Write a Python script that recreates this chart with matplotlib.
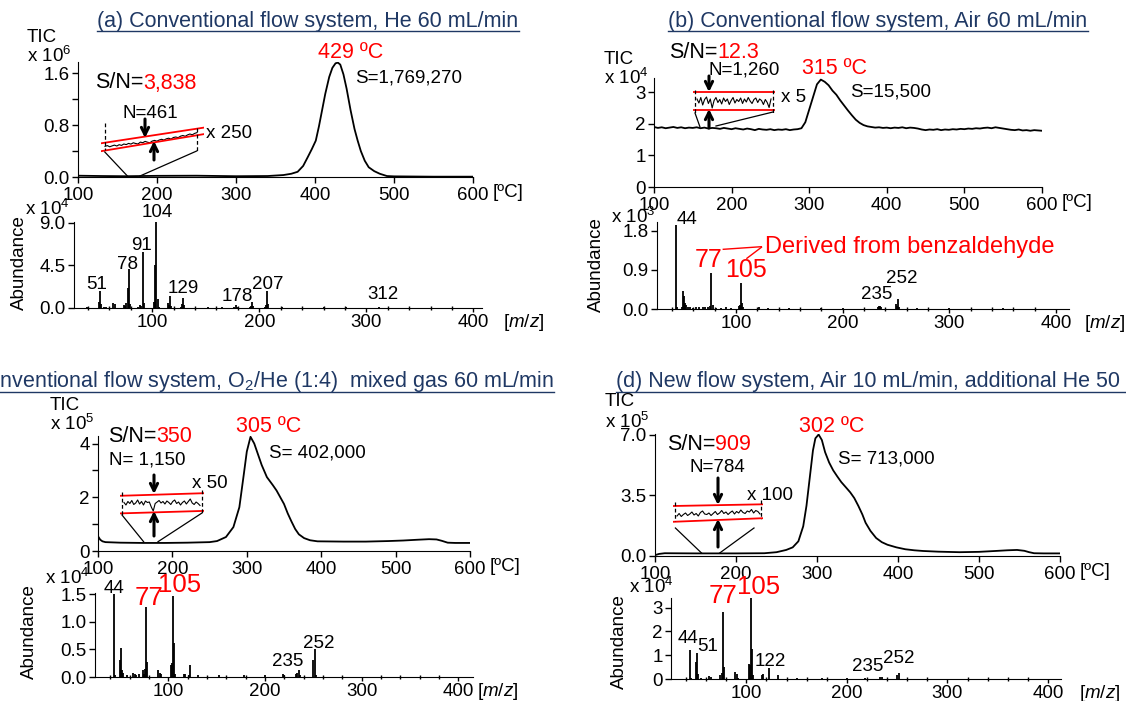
import matplotlib
matplotlib.use('Agg')
import matplotlib.pyplot as plt
import numpy as np

plt.rcParams['font.family'] = ['Liberation Sans', 'DejaVu Sans']
plt.rcParams['mathtext.fontset'] = 'custom'
plt.rcParams['mathtext.rm'] = 'Liberation Sans'
plt.rcParams['mathtext.it'] = 'Liberation Sans:italic'

W, H = 1126, 701
NAVY = '#1f3864'
FS = 13.5      # tick labels / small annotations
FB = 15.5      # titles, S/N, peak temperature

# ---------------- TIC curves (temperature in ºC, intensity) ----------------
tic_a_t = [100, 130, 160, 200, 250, 300, 340, 360, 370, 378, 385, 391, 396, 401, 405, 409,
           413, 418, 422, 426, 429, 432, 436, 440, 445, 450, 454, 458, 463, 468, 475, 482,
           491, 500, 550, 600]
tic_a = [0.02, 0.015, 0.012, 0.018, 0.02, 0.012, 0.015, 0.03, 0.05, 0.08, 0.17, 0.31, 0.43,
         0.56, 0.78, 1.03, 1.28, 1.54, 1.68, 1.75, 1.76, 1.73, 1.58, 1.36, 1.03, 0.74, 0.56,
         0.40, 0.25, 0.15, 0.09, 0.05, 0.015, 0.01, 0.005, 0.005]

tic_b_t = np.arange(100, 601, 5)
tic_b = [1.90, 1.87, 1.89, 1.86, 1.88, 1.90, 1.87, 1.89, 1.86, 1.88, 1.87, 1.89, 1.86, 1.88,
         1.85, 1.87, 1.86, 1.84, 1.87, 1.85, 1.83, 1.86, 1.84, 1.82, 1.85, 1.83, 1.80, 1.84,
         1.82, 1.81, 1.83, 1.80, 1.82, 1.81, 1.83, 1.80, 1.82, 1.83, 1.86, 2.05, 2.45, 2.85,
         3.25, 3.40, 3.33, 3.22, 3.05, 2.92, 2.74, 2.58, 2.42, 2.27, 2.13, 2.03, 1.96, 1.92,
         1.90, 1.88, 1.89, 1.87, 1.88, 1.86, 1.88, 1.87, 1.89, 1.86, 1.88, 1.87, 1.85, 1.82,
         1.80, 1.82, 1.81, 1.83, 1.80, 1.82, 1.81, 1.83, 1.82, 1.84, 1.83, 1.85, 1.84, 1.86,
         1.85, 1.87, 1.88, 1.86, 1.89, 1.87, 1.85, 1.83, 1.81, 1.80, 1.82, 1.79, 1.80, 1.78,
         1.80, 1.79, 1.78]

tic_c_t = [100, 103, 106, 110, 130, 160, 190, 220, 250, 260, 272, 282, 290, 296, 300, 305,
           310, 315, 320, 327, 335, 340, 345, 350, 355, 360, 365, 370, 377, 385, 395, 430,
           460, 490, 510, 530, 545, 555, 562, 570, 580, 600]
tic_c = [0.55, 0.42, 0.36, 0.33, 0.31, 0.30, 0.30, 0.31, 0.33, 0.37, 0.52, 0.89, 1.63, 2.86,
         3.70, 4.25, 4.00, 3.60, 3.20, 2.75, 2.45, 2.25, 2.00, 1.75, 1.40, 1.10, 0.82, 0.62,
         0.48, 0.40, 0.36, 0.35, 0.35, 0.37, 0.39, 0.42, 0.44, 0.43, 0.38, 0.31, 0.30, 0.30]

tic_d_t = [100, 105, 112, 150, 200, 235, 250, 262, 270, 277, 283, 287, 291, 295, 298, 302,
           306, 310, 315, 320, 325, 330, 336, 341, 346, 351, 356, 360, 366, 373, 380, 387,
           398, 409, 420, 431, 450, 476, 500, 520, 535, 547, 556, 562, 568, 580, 600]
tic_d = [0.05, 0.12, 0.16, 0.15, 0.15, 0.16, 0.22, 0.35, 0.50, 0.85, 1.72, 2.90, 4.50, 6.10,
         6.80, 7.02, 6.70, 6.00, 5.40, 4.95, 4.60, 4.27, 3.95, 3.68, 3.35, 2.90, 2.40, 1.92,
         1.45, 1.04, 0.80, 0.65, 0.50, 0.39, 0.33, 0.29, 0.25, 0.22, 0.24, 0.29, 0.33, 0.35,
         0.30, 0.22, 0.16, 0.15, 0.15]

# ---------------- magnified baseline noise (inset traces) ----------------
noise_a = [9.6, 10.4, 9.2, 10.1, 10.9, 10.0, 11.3, 10.6, 12.0, 11.4, 12.6, 11.9, 13.2, 12.5,
           12.0, 13.9, 13.3, 14.6, 13.8, 13.2, 14.9, 15.6, 14.8, 16.0, 16.7, 15.9, 17.2, 17.8,
           16.9, 18.5, 19.0, 18.3, 19.8, 20.5, 19.7, 21.1, 22.0, 21.2, 22.6, 23.4]
noise_b = [17.0, 13.0, 18.5, 11.0, 16.5, 19.0, 12.5, 17.0, 8.0, 15.5, 18.5, 13.5, 16.5, 12.0,
           18.0, 14.5, 17.0, 11.5, 15.5, 18.5, 13.0, 16.5, 14.5, 18.0, 12.5, 17.0, 14.0, 18.5,
           15.0, 12.5, 16.5, 18.0, 13.5, 17.0, 15.5, 11.5, 16.5, 13.5, 8.5, 17.0]
noise_c = [15.5, 13.0, 16.5, 14.5, 17.5, 13.5, 15.0, 18.0, 14.0, 16.5, 13.0, 17.0, 15.5, 16.0,
           11.0, 7.0, 14.5, 16.0, 17.5, 15.0, 16.5, 14.0, 17.0, 15.5, 13.5, 16.5, 18.0, 14.5,
           16.0, 13.0, 15.5, 17.0, 14.0, 16.5, 19.0, 15.0, 13.5, 16.0, 14.5, 12.5]
noise_d = [10.0, 12.5, 9.5, 11.5, 13.0, 10.5, 12.0, 14.0, 11.0, 12.5, 10.0, 13.5, 15.0, 12.0,
           11.5, 13.0, 10.5, 12.5, 14.5, 11.5, 13.0, 15.5, 12.5, 14.0, 11.5, 13.5, 15.0, 12.0,
           14.5, 13.0, 16.0, 13.5, 12.5, 15.0, 14.0, 16.5, 13.0, 15.5, 14.5, 12.0]

# ---------------- mass spectra (m/z, abundance) ----------------
ms_a_mz = [39, 50, 51, 52, 55, 57, 63, 65, 74, 75, 76, 77, 78, 79, 87, 89, 90, 91, 92, 102,
           103, 104, 105, 106, 115, 116, 117, 118, 127, 128, 129, 130, 139, 152, 165, 176,
           178, 179, 191, 192, 193, 194, 205, 206, 207, 208, 221, 240, 260, 281, 300, 312,
           320, 340, 355, 370, 390]
ms_a = [0.1, 0.6, 1.8, 0.4, 0.1, 0.1, 0.5, 0.45, 0.3, 0.2, 0.5, 2.1, 4.1, 0.4, 0.1, 0.3, 0.2,
        5.9, 0.5, 0.6, 4.5, 9.1, 0.9, 0.1, 0.5, 0.3, 1.3, 0.2, 0.1, 0.4, 1.1, 0.3, 0.05, 0.1,
        0.1, 0.1, 0.3, 0.15, 0.15, 0.2, 0.6, 0.2, 0.15, 0.3, 1.8, 0.4, 0.1, 0.05, 0.08, 0.06,
        0.05, 0.06, 0.04, 0.05, 0.04, 0.04, 0.03]

ms_b_mz = [44, 45, 49, 50, 51, 52, 53, 55, 57, 60, 63, 65, 69, 71, 74, 76, 77, 78, 81, 86,
           91, 95, 103, 104, 105, 106, 107, 122, 130, 150, 180, 200, 233, 234, 235, 236,
           250, 251, 252, 253, 270, 300, 350]
ms_b = [1.93, 0.04, 0.05, 0.41, 0.30, 0.13, 0.10, 0.05, 0.05, 0.03, 0.05, 0.04, 0.05, 0.04,
        0.04, 0.06, 0.83, 0.10, 0.03, 0.03, 0.04, 0.03, 0.06, 0.10, 0.59, 0.14, 0.04, 0.05,
        0.02, 0.02, 0.02, 0.02, 0.04, 0.06, 0.08, 0.05, 0.12, 0.06, 0.22, 0.05, 0.02, 0.02,
        0.02]

ms_c_mz = [44, 45, 50, 51, 52, 53, 57, 63, 65, 66, 69, 74, 75, 76, 77, 78, 89, 91, 92, 103,
           104, 105, 106, 107, 116, 117, 121, 122, 131, 152, 178, 200, 218, 220, 232, 233,
           235, 236, 250, 252, 253]
ms_c = [1.50, 0.04, 0.31, 0.53, 0.12, 0.08, 0.04, 0.07, 0.06, 0.04, 0.05, 0.12, 0.05, 0.14,
        1.26, 0.27, 0.12, 0.08, 0.05, 0.22, 0.26, 1.47, 0.61, 0.06, 0.05, 0.05, 0.04, 0.22,
        0.03, 0.03, 0.03, 0.03, 0.05, 0.03, 0.06, 0.08, 0.12, 0.04, 0.31, 0.51, 0.04]

ms_d_mz = [44, 45, 50, 51, 52, 55, 63, 65, 74, 76, 77, 78, 89, 91, 92, 103, 104, 105, 106,
           107, 116, 117, 122, 131, 150, 175, 200, 218, 233, 235, 250, 252]
ms_d = [1.22, 0.05, 0.70, 1.08, 0.22, 0.06, 0.12, 0.10, 0.15, 0.26, 2.83, 0.52, 0.30, 0.20,
        0.06, 0.62, 0.60, 3.38, 1.26, 0.15, 0.15, 0.22, 0.45, 0.17, 0.04, 0.05, 0.05, 0.06,
        0.07, 0.08, 0.16, 0.27]

fig = plt.figure(figsize=(W / 100, H / 100), dpi=100)
renderer = fig.canvas.get_renderer()

# overlay in pixel units for annotations
ov = fig.add_axes([0, 0, 1, 1], zorder=5)
ov.set_xlim(0, W)
ov.set_ylim(H, 0)
ov.axis('off')


def box(l, t, r, b):
    return fig.add_axes([l / W, 1 - b / H, (r - l) / W, (b - t) / H])


def frame(ax, xlim, ylim, xt, yt, ylab, xpad=3):
    ax.set_xlim(xlim)
    ax.set_ylim(ylim)
    ax.spines[['top', 'right']].set_visible(False)
    ax.set_xticks(xt)
    ax.set_yticks(yt)
    ax.set_yticklabels(ylab)
    ax.tick_params(direction='out', length=4, width=1, labelsize=FS, pad=2)
    ax.tick_params(axis='x', pad=xpad)
    ax.patch.set_visible(False)


def txt(x, y, s, size=FS, color='k', ha='left', va='center', **kw):
    return ov.text(x, y, s, fontsize=size, color=color, ha=ha, va=va, **kw)


def title(x, y, s, ha):
    t = txt(x, y, s, FB, NAVY, ha=ha)
    bb = t.get_window_extent(renderer)
    ov.plot([bb.x0, bb.x1], [y + 10, y + 10], color=NAVY, lw=1)


def sn(x, y, val):
    t = txt(x, y, 'S/N=', FB)
    bb = t.get_window_extent(renderer)
    txt(bb.x1, y, val, FB, 'red')


def arrow(x, y0, y1):
    ov.annotate('', xy=(x, y1), xytext=(x, y0),
                arrowprops=dict(arrowstyle='->', lw=2.2, color='k', mutation_scale=13,
                                shrinkA=0, shrinkB=0))


def inset(l, t, r, b, noise, x0, x1, upper, lower, dash, conn):
    ax = box(l, t, r, b)
    ax.set_xlim(l, r)
    ax.set_ylim(0, b - t)
    ax.axis('off')
    ax.plot(np.linspace(x0, x1, len(noise)), noise, color='k', lw=0.8)
    ax.plot([l, r], upper, color='red', lw=1.3)
    ax.plot([l, r], lower, color='red', lw=1.3)
    for xd, ya, yb in dash:
        ov.plot([xd, xd], [ya, yb], color='k', lw=0.9, ls=(0, (3, 2)))
    for p, q in conn:
        ov.plot([p[0], q[0]], [p[1], q[1]], color='k', lw=0.9)


def tic_panel(box_px, t, v, ylim, yt, ylab, unit_dx=20):
    ax = box(*box_px)
    ax.plot(t, v, color='k', lw=1.3)
    frame(ax, (100, 600), ylim, range(100, 601, 100), yt, ylab)
    ax.annotate('[ºC]', xy=(1, 0), xycoords='axes fraction', xytext=(unit_dx, -7),
                textcoords='offset pixels', ha='left', va='top', fontsize=FS)
    return ax


def ms_panel(box_px, mz, ab, xlim, ylim, yt, ylab, mz_dx):
    ax = box(*box_px)
    ax.vlines(mz, 0, ab, color='k', lw=1.3)
    frame(ax, xlim, ylim, [100, 200, 300, 400], yt, ylab, xpad=1)
    ax.tick_params(axis='x', length=3)
    ax.set_xticks(range(40, 401, 20), minor=True)
    ax.tick_params(which='minor', direction='inout', length=3, width=1)
    ax.annotate(r'[$\it{m/z}$]', xy=(400, 0), xycoords='data', xytext=(mz_dx, -4),
                textcoords='offset pixels', ha='left', va='top', fontsize=FS)
    return ax


# ---------------- panel (a) ----------------
tic_panel((78, 62, 473, 177), tic_a_t, tic_a, (0, 1.77), [0, 0.4, 0.8, 1.2, 1.6],
          ['0.0', '', '0.8', '', '1.6'])
title(308, 21, '(a) Conventional flow system, He 60 mL/min', 'center')
txt(27, 37, 'TIC')
txt(27, 56, r'x $\mathregular{10^6}$', FS)
sn(95, 83, '3,838')
txt(351, 52, '429 ºC', FB, 'red', ha='center')
txt(355, 78, 'S=1,769,270')
txt(150, 113, 'N=461', ha='center')
txt(206, 133, 'x 250')
inset(101, 118, 204, 156, noise_a, 105, 197, [12.7, 28.4], [4.8, 21.9],
      [(105, 123, 150), (197, 128, 152)],
      [((104.8, 152), (127.4, 176)), ((196.7, 151), (140, 176))])
arrow(145, 119, 138)
arrow(154, 160, 141)

ax = ms_panel((74, 222, 482, 308), ms_a_mz, ms_a, (27, 408), (0, 9.1), [0, 4.5, 9.0],
              ['0.0', '4.5', '9.0'], 30)
for s, x, y in [('51', 48.5, 1.6), ('78', 77, 3.67), ('91', 90.5, 5.71), ('104', 104.5, 9.24),
                ('129', 128.8, 1.2), ('178', 179.2, 0.32), ('207', 208.2, 1.55),
                ('312', 315.5, 0.5)]:
    ax.text(x, y, s, ha='center', va='bottom', fontsize=FS)
txt(25, 209, r'x $\mathregular{10^4}$', FS)
txt(19, 263, 'Abundance', ha='center', rotation=90)

# ---------------- panel (b) ----------------
tic_panel((654, 78, 1042, 187), tic_b_t, tic_b, (0, 3.45), [0, 1, 2, 3], ['0', '1', '2', '3'])
title(878, 21, '(b) Conventional flow system, Air 60 mL/min', 'center')
txt(604, 60, 'TIC')
txt(604, 78, r'x $\mathregular{10^4}$', FS)
sn(669, 52, '12.3')
txt(744, 70, 'N=1,260', ha='center')
txt(835, 69, '315 ºC', FB, 'red', ha='center')
txt(850, 92, 'S=15,500')
txt(781, 98, 'x 5')
inset(693, 86, 775, 116, noise_b, 697, 771, [24.3, 24.3], [6, 6],
      [(695, 90, 113), (773, 90, 113)],
      [((695, 113), (700, 127)), ((773, 112), (716, 126))])
arrow(709, 76, 92)
arrow(709, 128, 109)

ax = ms_panel((657, 222, 1069, 309), ms_b_mz, ms_b, (26, 412), (0, 2.0), [0, 0.9, 1.8],
              ['0.0', '0.9', '1.8'], 28)
for s, x, y in [('235', 232, 0.13), ('252', 255.5, 0.51)]:
    ax.text(x, y, s, ha='center', va='bottom', fontsize=FS)
ax.text(44.7, 1.86, '44', ha='left', va='bottom', fontsize=FS)
ax.text(74.7, 0.86, '77', ha='center', va='bottom', fontsize=18, color='red')
ax.text(109.4, 0.63, '105', ha='center', va='bottom', fontsize=18, color='red')
ax.text(127.2, 1.43, 'Derived from benzaldehyde', ha='left', va='center', fontsize=17,
        color='red')
ov.plot([723.3, 761.4], [249.3, 246.7], color='red', lw=1)
ov.plot([746.9, 761.4], [258.3, 247.3], color='red', lw=1)
txt(611, 217, r'x $\mathregular{10^3}$', FS)
txt(596, 265, 'Abundance', ha='center', rotation=90)

# ---------------- panel (c) ----------------
tic_panel((98, 436, 470, 551), tic_c_t, tic_c, (0, 4.28), [0, 1, 2, 3, 4],
          ['0', '', '2', '', '4'])
title(554, 382, '(c) Conventional flow system, O$_\\mathregular{2}$/He (1:4)  mixed gas 60 mL/min',
      'right')
txt(50, 406, 'TIC')
txt(50, 424, r'x $\mathregular{10^5}$', FS)
sn(108, 437, '350')
txt(109, 460, 'N= 1,150')
txt(269, 427, '305 ºC', FB, 'red', ha='center')
txt(269, 453, 'S= 402,000')
txt(192, 483, 'x 50')
inset(120, 488, 204, 518, noise_c, 124, 200, [22.2, 24.8], [4.6, 7.1],
      [(122, 492, 516), (202, 490, 515)],
      [((122, 515), (143.6, 541.7)), ((202, 513), (158, 541.7))])
arrow(154, 475, 494)
arrow(154, 536, 511)

ax = ms_panel((95, 593, 473, 677), ms_c_mz, ms_c, (24, 415), (0, 1.52),
              [0, 0.5, 1.0, 1.5], ['0.0', '0.5', '1.0', '1.5'], 19)
for s, x, y in [('44', 43.7, 1.44), ('235', 223.6, 0.13), ('252', 255.3, 0.46)]:
    ax.text(x, y, s, ha='center', va='bottom', fontsize=FS)
ax.text(79.9, 1.22, '77', ha='center', va='bottom', fontsize=18.5, color='red')
ax.text(111.9, 1.44, '105', ha='center', va='bottom', fontsize=18.5, color='red')
txt(45, 578, r'x $\mathregular{10^4}$', FS)
txt(29, 632, 'Abundance', ha='center', rotation=90)

# ---------------- panel (d) ----------------
tic_panel((655, 434, 1060, 556), tic_d_t, tic_d, (0, 7.05), [0, 3.5, 7.0],
          ['0.0', '3.5', '7.0'])
title(616, 382, '(d) New flow system, Air 10 mL/min, additional He 50 mL/min', 'left')
txt(605, 402, 'TIC')
txt(605, 422, r'x $\mathregular{10^5}$', FS)
sn(667, 445, '909')
txt(717, 468, 'N=784', ha='center')
txt(832, 426, '302 ºC', FB, 'red', ha='center')
txt(838, 459, 'S= 713,000')
txt(747, 495, 'x 100')
inset(673, 498, 763, 526, noise_d, 677, 760, [20.0, 21.7], [4.2, 7.8],
      [(675, 502, 521), (761, 500, 519)],
      [((675.4, 528), (701.5, 553)), ((754, 528), (719.7, 553))])
arrow(718, 478, 505)
arrow(718, 547, 519)

ax = ms_panel((671, 598, 1061, 679), ms_d_mz, ms_d, (25, 413), (0, 3.4), [0, 1, 2, 3],
              ['0', '1', '2', '3'], 31)
for s, x, y in [('44', 41.9, 1.36), ('51', 61.8, 1.0), ('122', 124, 0.38),
                ('235', 220.5, 0.17), ('252', 251.4, 0.52)]:
    ax.text(x, y, s, ha='center', va='bottom', fontsize=FS)
ax.text(76.7, 2.97, '77', ha='center', va='bottom', fontsize=18.5, color='red')
ax.text(112.3, 3.35, '105', ha='center', va='bottom', fontsize=18.5, color='red')
txt(629, 587, r'x $\mathregular{10^4}$', FS)
txt(619, 642, 'Abundance', ha='center', rotation=90)

fig.savefig('out.png', dpi=100)
